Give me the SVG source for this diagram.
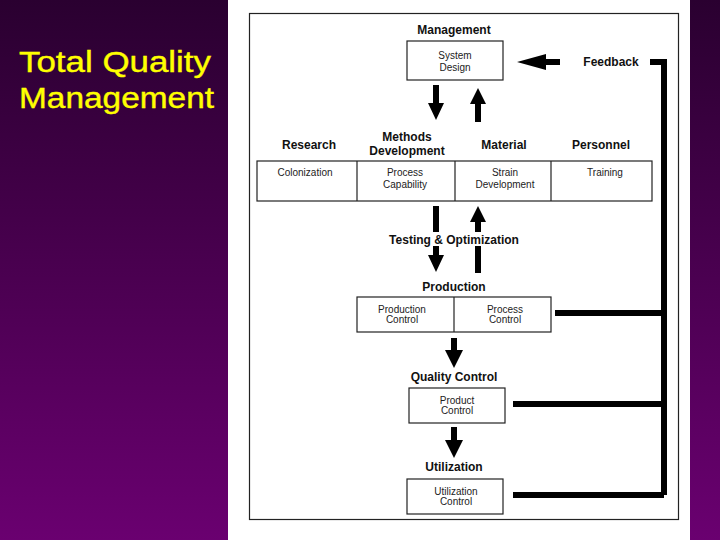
<svg xmlns="http://www.w3.org/2000/svg" width="720" height="540" viewBox="0 0 720 540">
<defs>
<linearGradient id="bg" x1="0" y1="0" x2="0" y2="1"><stop offset="0" stop-color="#2a0030"/><stop offset="1" stop-color="#6a0070"/></linearGradient>
<style>
.b{fill:#fff;stroke:#222;stroke-width:1.2}
.h{font-family:"Liberation Sans",Arial,sans-serif;font-weight:bold;font-size:12px;text-anchor:middle;fill:#111}
.t{font-family:"Liberation Sans",Arial,sans-serif;font-size:10px;text-anchor:middle;fill:#222}
.l{stroke:#000;stroke-width:6;fill:none}
.a{fill:#000}
</style>
</defs>
<rect width="720" height="540" fill="url(#bg)"/>
<text x="19" y="72" font-family="Liberation Sans,Arial,sans-serif" font-size="30" fill="#ffff00" stroke="#ffff00" stroke-width="0.4" textLength="192" lengthAdjust="spacingAndGlyphs">Total Quality</text>
<text x="19" y="108" font-family="Liberation Sans,Arial,sans-serif" font-size="30" fill="#ffff00" stroke="#ffff00" stroke-width="0.4" textLength="195" lengthAdjust="spacingAndGlyphs">Management</text>
<rect x="228" y="0" width="462" height="540" fill="#fff"/>
<rect x="249.5" y="13.5" width="429" height="506" fill="none" stroke="#222" stroke-width="1.2"/>
<g id="connectors">
<path class="l" d="M650 62H664V495M555 313H664M513 404H664M513 495H664"/>
<path class="a" d="M560 59H546V54L517 62L546 70V65H560Z"/>
<path class="a" d="M433 85H439V103H444L436 120L428 103H433Z"/>
<path class="a" d="M475 122H481V104H486L478 88L470 104H475Z"/>
<path class="a" d="M433 206H439V255H444L436 272L428 255H433Z"/>
<path class="a" d="M475 273H481V222H486L478 206L470 222H475Z"/>
<path class="a" d="M451 338H457V350H463L454 368L445 350H451Z"/>
<path class="a" d="M451 427H457V440H463L454 458L445 440H451Z"/>
</g>
<g id="management"><text class="h" x="454" y="34">Management</text>
<rect class="b" x="407" y="41" width="96" height="39"/>
<text class="t" x="455" y="59">System</text><text class="t" x="455" y="71">Design</text></g>
<g id="feedback"><text class="h" x="611" y="66">Feedback</text></g>
<g id="row">
<text class="h" x="309" y="149">Research</text>
<text class="h" x="407" y="141">Methods</text><text class="h" x="407" y="155">Development</text>
<text class="h" x="504" y="149">Material</text>
<text class="h" x="601" y="149">Personnel</text>
<rect class="b" x="257" y="161" width="395" height="40"/>
<path d="M357 161V201M455 161V201M551 161V201" stroke="#222" stroke-width="1.2"/>
<text class="t" x="305" y="176">Colonization</text>
<text class="t" x="405" y="176">Process</text><text class="t" x="405" y="188">Capability</text>
<text class="t" x="505" y="176">Strain</text><text class="t" x="505" y="188">Development</text>
<text class="t" x="605" y="176">Training</text></g>
<g id="testing"><rect x="380" y="232" width="148" height="14" fill="#fff"/><text class="h" x="454" y="244">Testing &amp; Optimization</text></g>
<g id="production"><text class="h" x="454" y="291">Production</text>
<rect class="b" x="357" y="297" width="194" height="35"/><path d="M454 297V332" stroke="#222" stroke-width="1.2"/>
<text class="t" x="402" y="313">Production</text><text class="t" x="402" y="323">Control</text>
<text class="t" x="505" y="313">Process</text><text class="t" x="505" y="323">Control</text></g>
<g id="quality"><text class="h" x="454" y="381">Quality Control</text>
<rect class="b" x="409" y="388" width="96" height="35"/>
<text class="t" x="457" y="404">Product</text><text class="t" x="457" y="414">Control</text></g>
<g id="utilization"><text class="h" x="454" y="471">Utilization</text>
<rect class="b" x="407" y="479" width="96" height="35"/>
<text class="t" x="456" y="495">Utilization</text><text class="t" x="456" y="505">Control</text></g>
</svg>
